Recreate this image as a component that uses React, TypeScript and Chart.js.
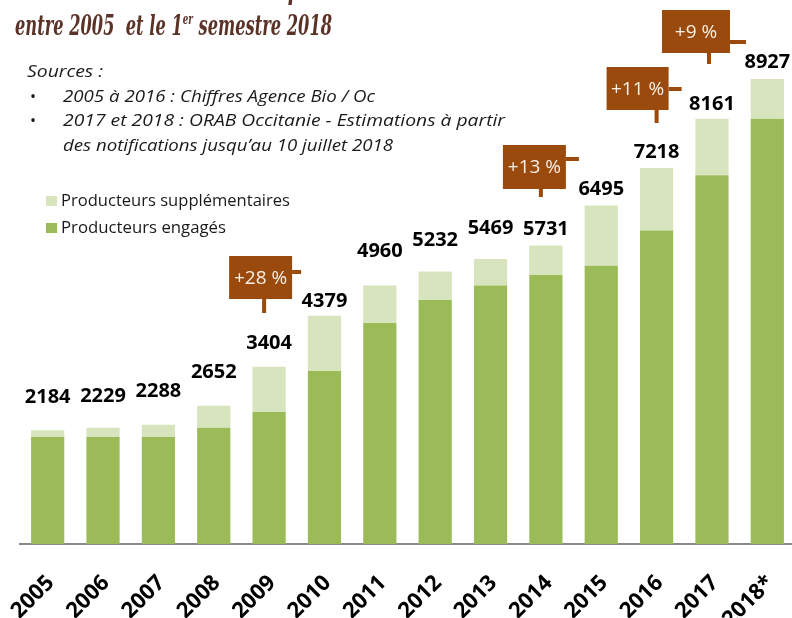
import React, { useEffect, useRef } from 'react';
import { Chart, registerables } from 'chart.js';

Chart.register(...registerables);

// ---------- data ----------
const years = ['2005', '2006', '2007', '2008', '2009', '2010', '2011', '2012', '2013', '2014', '2015', '2016', '2017', '2018*'];
const totals = [2184, 2229, 2288, 2652, 3404, 4379, 4960, 5232, 5469, 5731, 6495, 7218, 8161, 8927];
const engages = [2054, 2054, 2054, 2229, 2534, 3321, 4243, 4684, 4960, 5164, 5343, 6015, 7078, 8161];
const supplementaires = totals.map((t, i) => t - engages[i]);
const seriesNames = ['Producteurs engagés', 'Producteurs supplémentaires'];
const growthYears = ['2009', '2014', '2016', '2017'];
const growthTexts = ['+28 %', '+13 %', '+11 %', '+9 %'];
const titleTop = 'Évolution du nombre de producteurs bio en Occitanie';
const titleParts = ['entre 2005  et le 1', 'er', ' semestre 2018'];
const sourcesTitle = 'Sources :';
const sourcesLines = [
  '2005 à 2016 : Chiffres Agence Bio / Oc',
  '2017 et 2018 : ORAB Occitanie - Estimations à partir',
  'des notifications jusqu’au 10 juillet 2018',
];

// ---------- layout / style ----------
const COLOR_DARK = '#9BBB59';
const COLOR_LIGHT = '#D7E4BD';
const COLOR_BOX = '#994A0C';
const COLOR_TITLE = '#5B3228';
const labelOffsets = [33, 32, 33, 34, 23, 15, 34, 31, 31, 16, 16, 16, 15, 17];
const boxLayout = [
  { dx: -40, top: 256, w: 63, h: 43, vdx: -5, vlen: 14, hdy: 16, hlen: 9 },
  { dx: -43, top: 145, w: 63, h: 44, vdx: -5, vlen: 8, hdy: 14, hlen: 13 },
  { dx: -50, top: 67, w: 62, h: 43, vdx: 0, vlen: 13, hdy: 22, hlen: 13 },
  { dx: -50, top: 10, w: 68, h: 43, vdx: -3, vlen: 11, hdy: 32, hlen: 16 },
];
const sourcesWidths = [312, 442, 330];
const sourcesBaselines = [102, 126, 151];

const SANS = "'Open Sans', sans-serif";

function fitText(ctx: CanvasRenderingContext2D, text: string, x: number, y: number, w: number) {
  const natural = ctx.measureText(text).width;
  ctx.save();
  ctx.translate(x, y);
  ctx.scale(w / natural, 1);
  ctx.fillText(text, 0, 0);
  ctx.restore();
}

const overlayPlugin = {
  id: 'overlay',
  afterDatasetsDraw(chart: any) {
    const ctx: CanvasRenderingContext2D = chart.ctx;
    const xs = chart.scales.x;
    const ys = chart.scales.y;
    ctx.save();

    // Titles (script-like, condensed)
    ctx.fillStyle = COLOR_TITLE;
    ctx.textAlign = 'left';
    ctx.textBaseline = 'alphabetic';
    const titleFont = "italic bold 28px 'DejaVu Serif', serif";
    const supFont = "italic bold 15px 'DejaVu Serif', serif";
    ctx.font = titleFont;
    fitText(ctx, titleTop, 15, -1, 595);

    ctx.font = titleFont;
    const w1 = ctx.measureText(titleParts[0]).width;
    const w3 = ctx.measureText(titleParts[2]).width;
    ctx.font = supFont;
    const w2 = ctx.measureText(titleParts[1]).width;
    const k = 317 / (w1 + w2 + w3);
    ctx.save();
    ctx.translate(15, 35);
    ctx.scale(k, 1);
    ctx.font = titleFont;
    ctx.fillText(titleParts[0], 0, 0);
    ctx.font = supFont;
    ctx.fillText(titleParts[1], w1, -11);
    ctx.font = titleFont;
    ctx.fillText(titleParts[2], w1 + w2, 0);
    ctx.restore();

    // Sources
    ctx.fillStyle = '#1a1a1a';
    ctx.font = `italic 17px ${SANS}`;
    fitText(ctx, sourcesTitle, 27, 77, 76);
    sourcesLines.forEach((line, i) => {
      ctx.font = `italic 17px ${SANS}`;
      fitText(ctx, line, 63, sourcesBaselines[i], sourcesWidths[i]);
      if (i < 2) {
        ctx.font = `16px ${SANS}`;
        ctx.fillText('•', 30, sourcesBaselines[i]);
      }
    });

    // Legend (supplémentaires first, then engagés)
    const legendItems = [
      { text: seriesNames[1], color: COLOR_LIGHT, y: 201, w: 229 },
      { text: seriesNames[0], color: COLOR_DARK, y: 228, w: 165 },
    ];
    ctx.textBaseline = 'middle';
    ctx.font = `17px ${SANS}`;
    legendItems.forEach((it) => {
      ctx.fillStyle = it.color;
      ctx.fillRect(46, it.y - 5, 11, 10);
      ctx.fillStyle = '#1a1a1a';
      fitText(ctx, it.text, 61, it.y, it.w);
    });

    // Value labels
    ctx.fillStyle = '#000';
    ctx.textAlign = 'center';
    ctx.textBaseline = 'middle';
    ctx.font = `bold 20px ${SANS}`;
    totals.forEach((t, i) => {
      const px = xs.getPixelForValue(i);
      const py = ys.getPixelForValue(t) - labelOffsets[i];
      ctx.fillText(String(t), px, py);
    });

    // Growth boxes
    growthYears.forEach((yr, i) => {
      const L = boxLayout[i];
      const cx = xs.getPixelForValue(years.indexOf(yr));
      const left = cx + L.dx;
      ctx.fillStyle = COLOR_BOX;
      ctx.fillRect(left, L.top, L.w, L.h);
      ctx.fillRect(cx + L.vdx - 2, L.top + L.h, 4, L.vlen);
      ctx.fillRect(left + L.w, L.top + L.hdy - 2, L.hlen, 4);
      ctx.fillStyle = '#F8EFE6';
      ctx.font = `19px ${SANS}`;
      ctx.textAlign = 'center';
      ctx.textBaseline = 'middle';
      ctx.fillText(growthTexts[i], left + L.w / 2, L.top + L.h / 2 + 1);
    });

    ctx.restore();
  },
};

export default function App() {
  const ref = useRef<HTMLCanvasElement | null>(null);

  useEffect(() => {
    if (!ref.current) return;
    const chart = new Chart(ref.current, {
      type: 'bar',
      data: {
        labels: years,
        datasets: [
          {
            label: seriesNames[0],
            data: engages,
            backgroundColor: COLOR_DARK,
            barPercentage: 0.6,
            categoryPercentage: 1,
          },
          {
            label: seriesNames[1],
            data: supplementaires,
            backgroundColor: COLOR_LIGHT,
            barPercentage: 0.6,
            categoryPercentage: 1,
          },
        ],
      },
      options: {
        responsive: false,
        animation: false,
        layout: { padding: { top: 23, left: 20, right: 0, bottom: 0 } },
        plugins: {
          legend: { display: false },
          tooltip: { enabled: false },
          title: { display: false },
        },
        scales: {
          x: {
            stacked: true,
            grid: { display: false, drawTicks: false },
            border: { display: true, color: '#898989', width: 2 },
            ticks: {
              color: '#000',
              font: { family: SANS, weight: 'bold', size: 22 },
              minRotation: 45,
              maxRotation: 45,
              autoSkip: false,
              padding: 26,
              labelOffset: 3,
            },
            afterFit: (s: any) => {
              s.height = 74;
              s.paddingLeft = 0;
              s.paddingRight = 0;
            },
          },
          y: {
            stacked: true,
            display: false,
            min: 0,
            max: 10000,
          },
        },
      },
      plugins: [overlayPlugin],
    } as any);
    return () => chart.destroy();
  }, []);

  return (
    <div
      style={{
        position: 'fixed',
        left: 0,
        top: 0,
        width: 792,
        height: 618,
        overflow: 'hidden',
        background: '#fff',
      }}
    >
      <canvas ref={ref} width={795} height={618} style={{ display: 'block', width: 795, height: 618 }} />
    </div>
  );
}
